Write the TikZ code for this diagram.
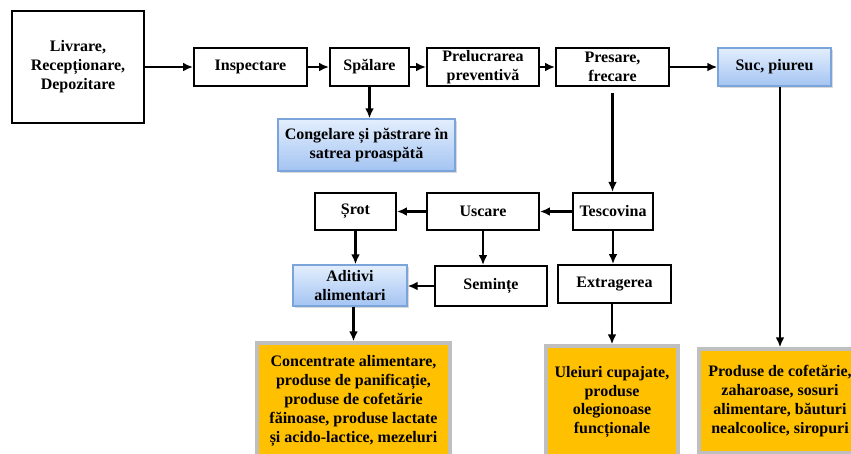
\documentclass[tikz,border=0pt]{standalone}
\usepackage{fontspec}
\setmainfont{Liberation Serif}
\usepackage{tikz}
\usetikzlibrary{arrows.meta,shadows}

\definecolor{sucblue}{HTML}{E3EEFD}
\definecolor{sucblue2}{HTML}{A4C4F2}
\definecolor{sucedge}{HTML}{7BA4DB}
\definecolor{prodorange}{HTML}{FFC000}
\definecolor{prodgray}{HTML}{BFBFBF}

\begin{document}
\begin{tikzpicture}[x=0.75pt, y=-0.75pt, align=center,
    font=\fontsize{12}{14.2}\selectfont\bfseries,
    >={Latex[length=7.5pt,width=6.5pt]},
    proc/.style={rectangle,draw,line width=1.3pt,inner sep=0pt,minimum height=28.5pt},
    result/.style={rectangle,draw=sucedge,line width=0.9pt,top color=sucblue,bottom color=sucblue2,inner sep=0pt,
        drop shadow={shadow xshift=1.2pt,shadow yshift=-1.2pt,opacity=0.3}},
    product/.style={rectangle,draw=prodgray,line width=2.4pt,fill=prodorange,inner sep=0pt},
    flow/.style={->,line width=1.7pt}]
    \useasboundingbox (0, 0) rectangle (851, 454);

    \node[proc,minimum width=99pt,minimum height=84pt] at (78, 67) (livrare) {Livrare,\\Recepționare,\\Depozitare};
    \node[proc,minimum width=84.75pt] at (250.5, 67) (inspectare) {Inspectare};
    \node[proc,minimum width=59.25pt] at (369.5, 67) (spalare) {Spălare};
    \node[proc,minimum width=84pt] at (483, 67) (prelucrare) {Prelucrarea\\preventivă};
    \node[proc,minimum width=84.75pt] at (612.5, 67) (presare) {Presare,\\frecare};
    \node[result,minimum width=84.75pt,minimum height=28.5pt] at (774.5, 67) (suc) {Suc, piureu};
    \node[result,minimum width=132.75pt,minimum height=39pt] at (366.5, 145) (congelare) {Congelare și păstrare în\\satrea proaspătă};
    \node[proc,minimum width=60pt,minimum height=28pt] at (613, 211.5) (tescovina) {Tescovina};
    \node[proc,minimum width=84pt,minimum height=28pt] at (483, 211.5) (uscare) {Uscare};
    \node[proc,minimum width=60.75pt,minimum height=28pt] at (355.5, 211.5) (srot) {Șrot};
    \node[result,minimum width=85.5pt,minimum height=30.75pt] at (350, 285.5) (aditivi) {Aditivi\\alimentari};
    \node[proc,minimum width=84pt,minimum height=30pt] at (491, 286) (seminte) {Semințe};
    \node[proc,minimum width=84.75pt] at (614.5, 284) (extragerea) {Extragerea};
    \node[product,minimum width=144.75pt,minimum height=87pt] at (353.5, 401) (concentrate) {Concentrate alimentare,\\produse de panificație,\\produse de cofetărie\\făinoase, produse lactate\\și acido-lactice, mezeluri};
    \node[product,minimum width=99pt,minimum height=84pt] at (612, 402) (uleiuri) {Uleiuri cupajate,\\produse\\olegionoase\\funcționale};
    \node[product,minimum width=121.5pt,minimum height=78pt] at (780, 401) (produse) {Produse de cofetărie,\\zaharoase, sosuri\\alimentare, băuturi\\nealcoolice, siropuri};

    \draw[flow] (livrare) -- (inspectare);
    \draw[flow] (inspectare) -- (spalare);
    \draw[flow] (spalare) -- (prelucrare);
    \draw[flow] (prelucrare) -- (presare);
    \draw[flow] (presare) -- (suc);
    \draw[flow] (spalare.south) -- (spalare.south |- congelare.north);
    \draw[flow,shorten <=4.5pt] (presare.south) -- (presare.south |- tescovina.north);
    \draw[flow] (tescovina) -- (uscare);
    \draw[flow] (uscare) -- (srot);
    \draw[flow] (srot.south) -- (srot.south |- aditivi.north);
    \draw[flow] (uscare.south) -- (uscare.south |- seminte.north);
    \draw[flow] (tescovina.south) -- (tescovina.south |- extragerea.north);
    \draw[flow] (seminte.west) -- (seminte.west -| aditivi.east);
    \draw[flow] (aditivi.south -| concentrate.north) -- (concentrate.north);
    \draw[flow] (extragerea.south -| uleiuri.north) -- (uleiuri.north);
    \draw[flow] (suc.south -| produse.north) -- (produse.north);
\end{tikzpicture}
\end{document}
